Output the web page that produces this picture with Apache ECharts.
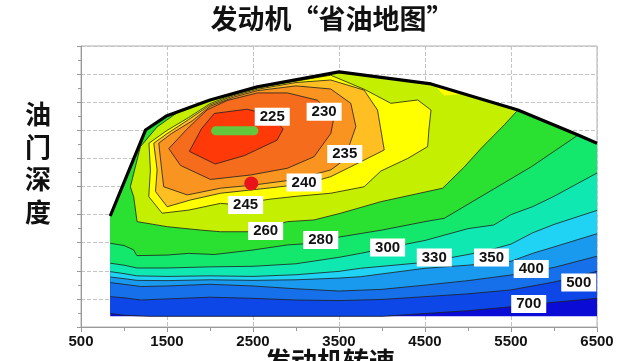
<!DOCTYPE html>
<html><head><meta charset="utf-8">
<script src="https://cdn.jsdelivr.net/npm/echarts@6/dist/echarts.min.js"></script>
<style>html,body{margin:0;padding:0;background:#fff}#c{width:640px;height:361px}</style>
</head><body><div id="c"></div>
<script>
// ---- axis ticks ----
const xTicks = [500, 1500, 2500, 3500, 4500, 5500, 6500];
const xRange = [500, 6500];
const yRange = [0, 100];

// ---- full-throttle (WOT) boundary [rpm, load%] ----
const wot = [[840,39.5],[1250,70.1],[1500,75.2],[2000,80.8],[2550,85.5],[3500,90.8],[4570,86.5],[5580,77.2],[6280,68.3],[6500,65.4]];
const baseLoad = 3.8;

// ---- open contour lines (left edge -> right edge / WOT) ----
const c700 = [[840,4.8],[1000,4.2],[1300,3.8],[2000,3.8],[3000,3.8],[4000,3.8],[4500,4.8],[5000,5.8],[5500,7.2],[6000,8.8],[6500,10.2]];
const c500 = [[840,10.8],[1000,10.4],[1200,9.6],[1500,10.0],[2000,10.6],[2500,10.2],[3000,9.6],[3500,9.4],[4000,9.8],[4500,10.8],[5000,11.8],[5500,13.2],[6000,16.0],[6500,19.8]];
const c400 = [[840,15.8],[1000,15.2],[1200,14.4],[1500,14.6],[2000,15.2],[2500,14.6],[3000,13.6],[3500,12.8],[4000,13.4],[4500,14.9],[5000,16.5],[5500,18.5],[6000,21.2],[6500,25.2]];
const c350 = [[840,17.8],[1000,17.2],[1150,16.6],[1500,16.5],[2000,16.8],[2500,16.6],[3000,16.8],[3500,17.4],[3750,17.9],[4500,20.9],[5000,22.0],[5500,23.4],[5750,26.2],[6000,28.5],[6500,33.2]];
const c330 = [[840,19.7],[1000,19.0],[1150,18.2],[1500,18.0],[2000,18.2],[2500,18.0],[3000,18.6],[3500,19.8],[3750,20.9],[4500,23.0],[5000,25.8],[5300,27.8],[5500,29.5],[5750,33.5],[6000,36.5],[6500,41.5]];
const c300 = [[840,22.7],[1000,22.0],[1150,21.0],[1500,21.0],[2000,21.4],[2500,21.6],[3000,22.5],[3500,24.8],[3750,26.2],[4000,27.8],[4500,30.8],[5000,35.0],[5300,36.3],[5500,40.0],[5750,42.8],[6000,46.5],[6500,54.8]];
const c280 = [[840,29.8],[1000,29.0],[1110,27.5],[1150,25.4],[1500,25.6],[1750,26.2],[2050,25.8],[2500,27.4],[2900,29.2],[3200,29.8],[3500,32.0],[4000,34.5],[4500,37.5],[4725,38.7],[5150,46.4],[5735,57.0],[6000,62.5],[6280,68.3]];
const c260 = [[1637,76.7],[1385,71.2],[1191,64.2],[1074,49.9],[1113,46.3],[1152,37.5],[1502,35.7],[1890,34.5],[2123,33.9],[2473,33.9],[2900,37.5],[3210,38.1],[3521,40.5],[3987,44.6],[4706,49.4],[4958,57.0],[5153,63.6],[5424,72.0],[5580,77.2]];

// ---- closed contour loops ----
const c245 = [[1290,65.4],[1502,70.0],[1750,74.5],[2000,79.5],[2275,82.7],[2550,85.0],[3000,87.5],[3404,89.6],[3800,84.5],[4104,79.6],[4415,80.8],[4570,77.2],[4545,70.1],[4531,64.2],[4300,60.0],[3987,55.5],[3792,49.9],[3404,47.6],[3000,46.5],[2700,45.5],[2276,43.6],[2123,44.0],[1753,41.6],[1443,40.5],[1288,46.4],[1307,55.9]];
const c245b = [[4600,86.3],[4725,82.4],[4960,82.9]];
const c240 = [[1346,65.4],[1500,68.8],[1750,73.8],[2000,79.0],[2275,82.3],[2550,84.6],[3000,87.0],[3404,87.9],[3792,84.3],[3948,77.2],[4026,63.0],[3792,59.4],[3404,53.5],[3114,51.0],[2700,49.5],[2123,47.6],[1773,45.2],[1502,42.8],[1366,48.2],[1385,55.9]];
const c235 = [[1404,65.4],[1550,68.8],[1800,73.5],[2000,78.5],[2275,81.8],[2550,84.1],[3000,85.8],[3404,84.7],[3637,79.6],[3696,71.3],[3560,59.4],[3404,55.9],[3000,52.5],[2500,50.5],[2123,49.4],[1735,47.0],[1462,49.9],[1443,54.7]];
const c230 = [[1521,63.5],[1735,70.5],[1968,77.3],[2201,80.6],[2550,83.3],[2900,83.3],[3250,80.7],[3443,74.8],[3405,68.9],[3210,60.6],[2900,56.5],[2473,54.1],[2006,52.5],[1657,57.5]];
const c225 = [[1760,62.5],[1900,70.5],[2050,76.0],[2430,77.5],[2700,75.5],[2850,70.5],[2780,66.5],[2400,61.0],[2060,58.0]];

// ---- contour labels [rpm, load, text] ----
const labelPts = [[2724,74.8,'225'],[3327,76.6,'230'],[3567,61.6,'235'],[3094,51.4,'240'],[2414,43.4,'245'],[2647,34.2,'260'],[3288,31.0,'280'],[4065,28.3,'300'],[4608,24.7,'330'],[5273,24.7,'350'],[5735,20.6,'400'],[6288,15.8,'500'],[5706,8.2,'700']];

// ---- markers ----
const greenBar = [[2065,69.8],[2511,69.8]];
const redDot = [[2480,51.1]];

// ---- band colours ----
const colors = {
  gt700:'#0a0cd6', b700:'#0d47e8', b500:'#1670ea', b400:'#1a9aee', b350:'#20d2f4',
  b330:'#10e8b2', b300:'#14e86c', b280:'#2ae030', b260:'#c4f000', b245:'#ffff00',
  b240:'#ffbe22', b235:'#fa9420', b230:'#f56c1c', b225:'#ff3a08'
};

function wotBetween(a, b) {
  const lo = Math.min(a, b), hi = Math.max(a, b);
  return wot.filter(p => p[0] >= lo && p[0] <= hi).reverse();
}
function region(line) {
  return line.concat(wotBetween(line[0][0], line[line.length - 1][0]));
}
const envelope = wot.concat([[6500, baseLoad], [840, baseLoad]]);

const fills = [
  {pts: envelope, color: colors.gt700},
  {pts: region(c700), color: colors.b700},
  {pts: region(c500), color: colors.b500},
  {pts: region(c400), color: colors.b400},
  {pts: region(c350), color: colors.b350},
  {pts: region(c330), color: colors.b330},
  {pts: region(c300), color: colors.b300},
  {pts: region(c280), color: colors.b280},
  {pts: region(c260), color: colors.b260},
  {pts: c245, color: colors.b245},
  {pts: c245b, color: colors.b245},
  {pts: c240, color: colors.b240},
  {pts: c235, color: colors.b235},
  {pts: c230, color: colors.b230},
  {pts: c225, color: colors.b225}
];
const strokes = [c700, c500, c400, c350, c330, c300, c280, c260]
  .concat([c245, c240, c235, c230, c225].map(l => l.concat([l[0]])));

const chart = echarts.init(document.getElementById('c'), null, {renderer: 'canvas'});
const axisFont = {color: '#111', fontWeight: 'bold', fontSize: 15, fontFamily: 'Liberation Sans'};
chart.setOption({
  animation: false,
  backgroundColor: '#fff',
  title: {
    text: '发动机“省油地图”', left: 327, top: 0, textAlign: 'center',
    textStyle: {fontSize: 27, fontWeight: 'bold', color: '#111', fontFamily: 'Noto Sans CJK SC'}
  },
  grid: {left: 81, right: 43, top: 46, bottom: 34, show: true, borderColor: '#b0b0b0', borderWidth: 1},
  xAxis: {
    type: 'value', min: xRange[0], max: xRange[1], interval: 1000,
    axisLine: {lineStyle: {color: '#999'}},
    axisTick: {length: 5, lineStyle: {color: '#999'}},
    minorTick: {show: true, splitNumber: 2, length: 4, lineStyle: {color: '#999'}},
    axisLabel: Object.assign({margin: 7, formatter: v => xTicks.includes(v) ? String(v) : ''}, axisFont),
    splitLine: {show: true, lineStyle: {color: '#c4c4c4', type: [4, 2]}}
  },
  yAxis: {
    type: 'value', min: yRange[0], max: yRange[1], interval: 10,
    axisLine: {show: true, lineStyle: {color: '#999'}},
    axisTick: {show: true, length: 4, lineStyle: {color: '#999'}},
    minorTick: {show: true, splitNumber: 2, length: 3, lineStyle: {color: '#999'}},
    axisLabel: {show: false},
    splitLine: {show: true, lineStyle: {color: '#c4c4c4', type: [4, 2]}}
  },
  graphic: [
    {type: 'text', left: 25, top: 98, style: {text: '油\n门\n深\n度', font: 'bold 26px "Noto Sans CJK SC"', lineHeight: 32.5, fill: '#111'}},
    {type: 'text', left: 265, top: 348, style: {text: '发动机转速', font: 'bold 26px "Noto Sans CJK SC"', fill: '#111'}}
  ],
  series: [
    {
      type: 'custom', coordinateSystem: 'cartesian2d', clip: true, silent: true, z: 1,
      data: fills.map((f, i) => [1000, 50, i]),
      renderItem: (params, api) => {
        const f = fills[params.dataIndex];
        return {type: 'polygon', shape: {points: f.pts.map(p => api.coord(p))}, style: {fill: f.color}};
      }
    },
    {
      type: 'custom', coordinateSystem: 'cartesian2d', clip: true, silent: true, z: 2,
      data: strokes.map((s, i) => [1000, 50, i]),
      renderItem: (params, api) => {
        const s = strokes[params.dataIndex];
        return {type: 'polyline', shape: {points: s.map(p => api.coord(p))}, style: {stroke: '#1e1e1e', lineWidth: 0.8, fill: null}};
      }
    },
    {
      type: 'line', data: wot, showSymbol: false, symbol: 'none', z: 3, silent: true,
      lineStyle: {color: '#000', width: 3.2, join: 'round'}
    },
    {
      type: 'line', data: greenBar, showSymbol: false, symbol: 'none', z: 4, silent: true,
      lineStyle: {color: '#64c83c', width: 9, cap: 'round'}
    },
    {
      type: 'scatter', data: redDot, symbolSize: 14, z: 4, silent: true,
      itemStyle: {color: '#e8141a', opacity: 1}
    },
    {
      type: 'scatter', z: 5, silent: true, symbolSize: 1,
      data: labelPts.map(p => ({value: [p[0], p[1]], name: p[2]})),
      itemStyle: {color: '#ffffff', opacity: 1},
      label: {
        show: true, position: 'inside', formatter: p => p.name, opacity: 1,
        backgroundColor: '#ffffff', padding: [2, 5, 1, 5],
        color: '#111', fontWeight: 'bold', fontSize: 15, fontFamily: 'Liberation Sans'
      }
    }
  ]
});
</script>
</body></html>
